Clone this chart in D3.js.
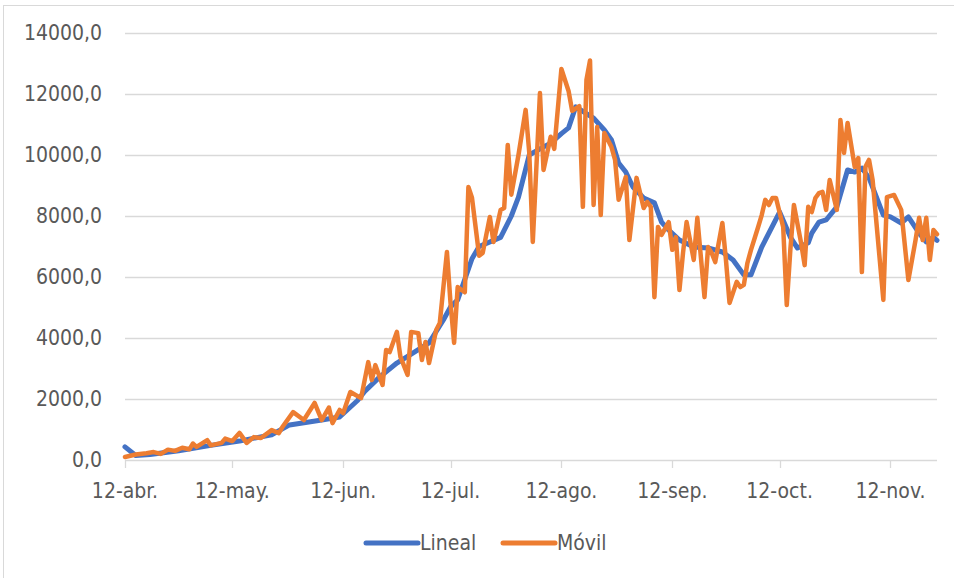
<!DOCTYPE html>
<html>
<head>
<meta charset="utf-8">
<script src="https://cdn.jsdelivr.net/npm/d3@7"></script>
<style>
  body { margin: 0; background: #fff; }
  text { font-family: "Liberation Sans Narrow", "DejaVu Sans Condensed", "Liberation Sans", sans-serif; fill: #595959; }
</style>
</head>
<body>
<div id="chart"></div>
<script>
// dias desde el 12-abr
var linealDias = [0, 3, 7, 15, 24, 32, 41, 46, 55, 60, 65, 67, 71, 76, 85, 89, 91, 93, 97, 99, 105, 108, 110, 113, 116, 119, 122, 124, 126, 131, 134, 136, 138, 140, 142, 145, 148, 150, 152, 155, 159, 163, 167, 170, 173, 175, 178, 183, 186, 188, 191, 192, 194, 196, 199, 202, 204, 206, 208, 212, 214, 217, 219, 222, 224, 226, 227];
var linealValores = [430, 150, 180, 300, 480, 620, 830, 1150, 1310, 1410, 1950, 2250, 2700, 3180, 3840, 4590, 5020, 5250, 6600, 7000, 7300, 8000, 8620, 10000, 10200, 10390, 10700, 10890, 11580, 11210, 10820, 10490, 9740, 9440, 8950, 8590, 8430, 7800, 7540, 7210, 6980, 6950, 6820, 6560, 6070, 6070, 6980, 8130, 7310, 6950, 7120, 7440, 7800, 7870, 8300, 9510, 9440, 9570, 9250, 8030, 7970, 7770, 7970, 7440, 7150, 7300, 7200];

var movilDias = [0, 3, 6, 8, 10, 12, 14, 16, 18, 19, 20, 23, 24, 27, 28, 30, 32, 34, 36, 38, 41, 43, 44, 47, 50, 53, 55, 57, 58, 60, 61, 63, 66, 68, 69, 70, 72, 73, 74, 76, 77, 79, 80, 82, 83, 84, 85, 87, 88, 90, 91, 92, 93, 95, 96, 97, 99, 100, 102, 103, 105, 106, 107, 108, 110, 112, 113, 114, 116, 117, 119, 120, 122, 124, 125, 127, 128, 129, 130, 131, 132, 133, 134, 136, 137, 138, 140, 141, 143, 145, 146, 147, 148, 149, 150, 152, 153, 154, 155, 156, 157, 159, 160, 162, 163, 164, 165, 167, 168, 169, 171, 172, 173, 174, 175, 177, 178, 179, 180, 181, 182, 184, 185, 186, 187, 189, 190, 191, 192, 193, 194, 195, 196, 197, 199, 200, 201, 202, 204, 205, 206, 207, 208, 209, 212, 213, 215, 217, 219, 221, 222, 223, 224, 225, 226, 227];
var movilValores = [100, 180, 220, 260, 200, 340, 300, 400, 350, 540, 430, 650, 480, 560, 700, 620, 890, 560, 750, 720, 980, 880, 1080, 1570, 1310, 1870, 1310, 1720, 1210, 1640, 1540, 2230, 2030, 3210, 2620, 3110, 2460, 3610, 3540, 4200, 3380, 2790, 4200, 4160, 3280, 3870, 3180, 4260, 4490, 6820, 5150, 3840, 5670, 5500, 8950, 8600, 6700, 6790, 7970, 7150, 8200, 8260, 10330, 8700, 10000, 11480, 10100, 7150, 12030, 9510, 10600, 10200, 12820, 12100, 11450, 11600, 8300, 12460, 13100, 8360, 10920, 8030, 10720, 10260, 9840, 8530, 9280, 7210, 9250, 8260, 8460, 8300, 5340, 7640, 7380, 7800, 6890, 7310, 5570, 6790, 7800, 6560, 7940, 5340, 6980, 6790, 6490, 7770, 6560, 5150, 5840, 5670, 5740, 6460, 6890, 7640, 8030, 8530, 8360, 8590, 8590, 7640, 5080, 6890, 8360, 7120, 6390, 8300, 8130, 8590, 8750, 8790, 8200, 9180, 8200, 11150, 10070, 11050, 9610, 9900, 6160, 9610, 9840, 9180, 5250, 8620, 8690, 8200, 5900, 7210, 7940, 7210, 7940, 6560, 7540, 7400];

var meses = ["abr.", "may.", "jun.", "jul.", "ago.", "sep.", "oct.", "nov."];
var yTicks = [0, 2000, 4000, 6000, 8000, 10000, 12000, 14000];

var width = 954,
  height = 578;

var inicio = new Date(2020, 3, 12);
var fin = new Date(2020, 10, 25);

var svg = d3
  .select("#chart")
  .append("svg")
  .attr("width", width)
  .attr("height", height);

// marco
svg
  .append("rect")
  .attr("x", 3.5)
  .attr("y", 5.5)
  .attr("width", 980)
  .attr("height", 620)
  .attr("fill", "none")
  .attr("stroke", "#d9d9d9");

var x = d3.scaleTime().domain([inicio, fin]).range([125, 937]);
var y = d3.scaleLinear().domain([0, 14000]).range([460, 33]);

var loc = d3.formatLocale({ decimal: ",", thousands: ".", grouping: [3], currency: ["", "€"] });
var fmt = loc.format(".1f");

function fecha(d) {
  return d3.timeDay.offset(inicio, d);
}

// rejilla
svg
  .append("g")
  .selectAll("line")
  .data(yTicks)
  .join("line")
  .attr("x1", 125)
  .attr("x2", 937)
  .attr("y1", function (d) { return Math.round(y(d)) + 0.5; })
  .attr("y2", function (d) { return Math.round(y(d)) + 0.5; })
  .attr("stroke", "#d9d9d9")
  .attr("stroke-width", 1.3);

svg
  .append("g")
  .selectAll("text")
  .data(yTicks)
  .join("text")
  .attr("x", 102)
  .attr("y", function (d) { return y(d); })
  .attr("dy", "0.35em")
  .attr("text-anchor", "end")
  .style("font-size", "21px")
  .text(function (d) { return fmt(d); });

var xTicks = meses.map(function (m, i) { return new Date(2020, 3 + i, 12); });

svg
  .append("g")
  .selectAll("line")
  .data(xTicks)
  .join("line")
  .attr("x1", function (d) { return Math.round(x(d)) + 0.5; })
  .attr("x2", function (d) { return Math.round(x(d)) + 0.5; })
  .attr("y1", 460)
  .attr("y2", 468)
  .attr("stroke", "#d9d9d9")
  .attr("stroke-width", 1.3);

svg
  .append("g")
  .selectAll("text")
  .data(xTicks)
  .join("text")
  .attr("x", function (d) { return x(d); })
  .attr("y", 498)
  .attr("text-anchor", "middle")
  .style("font-size", "21px")
  .text(function (d, i) { return "12-" + meses[i]; });

var lineaLineal = d3
  .line()
  .x(function (d, i) { return x(fecha(linealDias[i])); })
  .y(function (d) { return y(d); });

var lineaMovil = d3
  .line()
  .x(function (d, i) { return x(fecha(movilDias[i])); })
  .y(function (d) { return y(d); });

svg
  .append("path")
  .attr("d", lineaLineal(linealValores))
  .attr("fill", "none")
  .attr("stroke", "#4472c4")
  .attr("stroke-width", 5)
  .attr("stroke-linejoin", "round")
  .attr("stroke-linecap", "round");

svg
  .append("path")
  .attr("d", lineaMovil(movilValores))
  .attr("fill", "none")
  .attr("stroke", "#ed7d31")
  .attr("stroke-width", 4.5)
  .attr("stroke-linejoin", "round")
  .attr("stroke-linecap", "round");

// leyenda
var leyenda = [
  { nombre: "Lineal", color: "#4472c4", x: 366 },
  { nombre: "Móvil", color: "#ed7d31", x: 503 },
];
var lg = svg.append("g").selectAll("g").data(leyenda).join("g");
lg.append("line")
  .attr("x1", function (d) { return d.x; })
  .attr("x2", function (d) { return d.x + 52; })
  .attr("y1", 543)
  .attr("y2", 543)
  .attr("stroke", function (d) { return d.color; })
  .attr("stroke-width", 5)
  .attr("stroke-linecap", "round");
lg.append("text")
  .attr("x", function (d) { return d.x + 54; })
  .attr("y", 543)
  .attr("dy", "0.35em")
  .style("font-size", "21px")
  .text(function (d) { return d.nombre; });
</script>
</body>
</html>
